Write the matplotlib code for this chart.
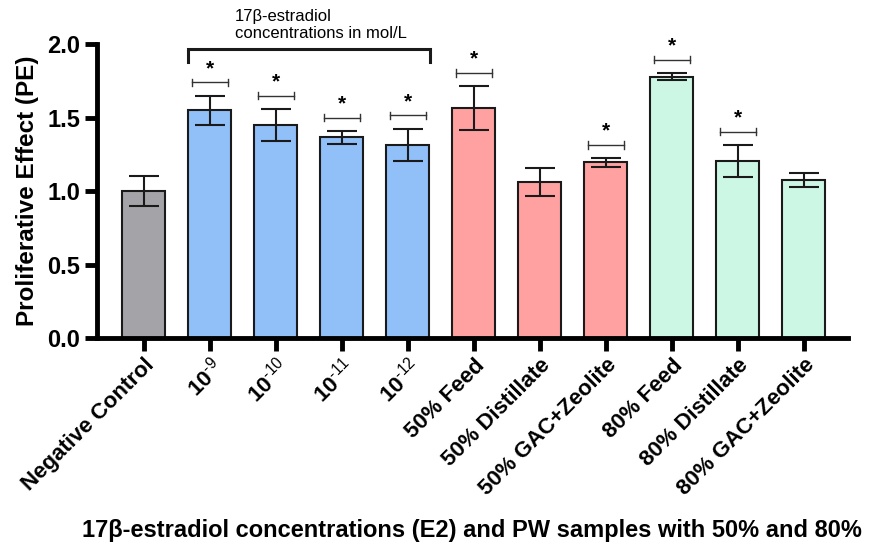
import numpy as np
import matplotlib
matplotlib.use("Agg")
import matplotlib.pyplot as plt

plt.rcParams['font.family'] = ['Liberation Sans', 'DejaVu Sans']
plt.rcParams['mathtext.fontset'] = 'custom'
plt.rcParams['mathtext.rm'] = 'Liberation Sans'
plt.rcParams['mathtext.default'] = 'rm'

labels = ['Negative Control', '10$^{‐9}$', '10$^{‐10}$', '10$^{‐11}$', '10$^{‐12}$',
          '50% Feed', '50% Distillate', '50% GAC+Zeolite',
          '80% Feed', '80% Distillate', '80% GAC+Zeolite']
pe_mean = [1.00, 1.55, 1.45, 1.365, 1.315, 1.565, 1.06, 1.195, 1.78, 1.205, 1.075]
pe_err = [0.10, 0.10, 0.11, 0.045, 0.11, 0.15, 0.095, 0.03, 0.025, 0.11, 0.05]
significant = [False, True, True, True, True, True, False, True, True, True, False]
groups = ['ctrl'] + ['e2'] * 4 + ['pw50'] * 3 + ['pw80'] * 3

colors = {'ctrl': '#a4a4a8', 'e2': '#91bff8', 'pw50': '#ffa1a1', 'pw80': '#cdf7e5'}

fig = plt.figure(figsize=(8.81, 5.46), dpi=100)
ax = fig.add_axes([0.110, 0.381, 0.8525, 0.538])

x = np.arange(len(labels))
ax.bar(x, pe_mean, width=0.65, color=[colors[g] for g in groups],
       edgecolor='#1a1a1a', linewidth=1.5, zorder=2)
ax.errorbar(x, pe_mean, yerr=pe_err, fmt='none', ecolor='#1a1a1a',
            elinewidth=1.5, capsize=11, capthick=1.5, zorder=3)

# significance markers
for xi, m, e, s in zip(x, pe_mean, pe_err, significant):
    if not s:
        continue
    yb = m + e + 0.09
    ax.plot([xi - 0.27, xi + 0.27], [yb, yb], color='#333333', lw=1.0, clip_on=False)
    for xe in (xi - 0.27, xi + 0.27):
        ax.plot([xe, xe], [yb - 0.025, yb + 0.025], color='#333333', lw=1.0, clip_on=False)
    ax.text(xi, yb + 0.03, '*', ha='center', va='bottom', fontsize=15,
            fontweight='bold')

# bracket over E2 concentrations
ax.plot([0.67, 0.67, 4.33, 4.33], [1.88, 1.965, 1.965, 1.88], color='#1a1a1a',
        lw=2.2, clip_on=False, solid_joinstyle='miter')
ax.text(1.38, 2.025, '17β-estradiol\nconcentrations in mol/L', ha='left', va='bottom',
        fontsize=12, linespacing=1.15)

ax.set_xlim(-0.712, 10.667)
ax.set_ylim(0, 2.0)
ax.set_yticks([0, 0.5, 1.0, 1.5, 2.0])
ax.set_yticklabels(['0.0', '0.5', '1.0', '1.5', '2.0'])
ax.set_xticks(x)
ax.set_xticklabels(labels, rotation=45, ha='right', rotation_mode='anchor',
                   fontweight='bold', fontsize=16)
for t in ax.get_yticklabels():
    t.set_fontweight('bold')
    t.set_fontsize(17)

for side in ('top', 'right'):
    ax.spines[side].set_visible(False)
for side in ('left', 'bottom'):
    ax.spines[side].set_linewidth(3.5)
ax.tick_params(axis='both', width=3.5, length=9, pad=3)

ax.set_ylabel('Proliferative Effect (PE)', fontsize=17.5, fontweight='bold', labelpad=6)
ax.set_xlabel('17β-estradiol concentrations (E2) and PW samples with 50% and 80%',
              fontsize=17, fontweight='bold', labelpad=14)

fig.savefig('out.png', dpi=100)
